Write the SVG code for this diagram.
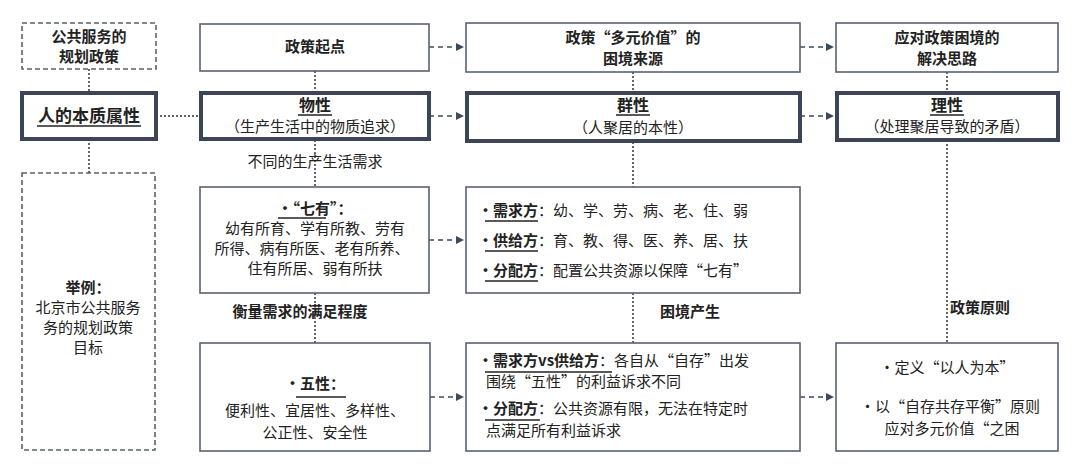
<svg xmlns="http://www.w3.org/2000/svg" width="1080" height="476" viewBox="0 0 1080 476">
<defs>
<style>
text{font-family:"Noto Sans CJK SC","Liberation Sans",sans-serif;font-size:15px;fill:#222;text-anchor:middle}
.b{font-weight:bold}
.l{text-anchor:start}
.box{fill:#fff;stroke:#5a6270;stroke-width:1.6}
.thick{fill:#fff;stroke:#3b4556;stroke-width:4}
.dash{fill:#fff;stroke:#5a6270;stroke-width:1.6;stroke-dasharray:5 3}
.dot{stroke:#333;stroke-width:1.5;stroke-dasharray:2 2;fill:none}
.arr{stroke:#3d4a5c;stroke-width:1.5;stroke-dasharray:5 4;fill:none;marker-end:url(#a)}
.u{stroke:#222;stroke-width:1.6}
</style>
<marker id="a" markerWidth="8" markerHeight="8" refX="8" refY="4" orient="auto" markerUnits="userSpaceOnUse"><path d="M0,0 L8,4 L0,8 z" fill="#3d4a5c"/></marker>
</defs>
<rect width="1080" height="476" fill="#fff"/>
<g id="connectors">
<path class="dot" d="M89 69V92M89 139V173M156 116H200M315 71V92M315 140V187M315 293V343M633 72V92M633 142V187M633 293V343M947 72V92M947 140V343"/>
<path class="arr" d="M429 47H464"/><path class="arr" d="M800 47H834"/>
<path class="arr" d="M429 116H464"/><path class="arr" d="M800 116H834"/>
<path class="arr" d="M429 240H464"/>
<path class="arr" d="M430 397H464"/><path class="arr" d="M800 397H834"/>
</g>
<g id="n1"><rect class="dash" x="22" y="23" width="134" height="46"/><text class="b" x="89" y="42">公共服务的</text><text class="b" x="89" y="62">规划政策</text></g>
<g id="n2"><rect class="thick" x="22" y="93" width="134" height="46"/><text class="b" x="89" y="122" style="font-size:17px">人的本质属性</text><line class="u" x1="37" y1="126" x2="141" y2="126"/></g>
<g id="n3"><rect class="dash" x="22" y="173" width="133" height="277"/><text class="b" x="88" y="293">举例：</text><text x="88" y="313">北京市公共服务</text><text x="88" y="333">务的规划政策</text><text x="88" y="353">目标</text></g>
<g id="n4"><rect class="box" x="200" y="24" width="229" height="47"/><text class="b" x="315" y="52">政策起点</text></g>
<g id="n5"><rect class="thick" x="201" y="93" width="228" height="46"/><text class="b" x="315" y="111" style="font-size:16px">物性</text><line class="u" x1="298" y1="115" x2="332" y2="115"/><text x="315" y="132">（生产生活中的物质追求）</text></g>
<text x="315" y="167">不同的生产生活需求</text>
<g id="n6"><rect class="box" x="200" y="187" width="229" height="106"/><text class="b" x="315" y="214">·“七有”：</text><line class="u" x1="278" y1="218" x2="326" y2="218"/><text x="315" y="234">幼有所育、学有所教、劳有</text><text x="312" y="254">所得、病有所医、老有所养、</text><text x="315" y="274">住有所居、弱有所扶</text></g>
<text class="b" x="300" y="317">衡量需求的满足程度</text>
<g id="n7"><rect class="box" x="200" y="343" width="230" height="108"/><text class="b" x="315" y="389">·五性：</text><line class="u" x1="296" y1="397" x2="346" y2="397"/><text x="315" y="416">便利性、宜居性、多样性、</text><text x="315" y="438">公正性、安全性</text></g>
<g id="n8"><rect class="box" x="466" y="23" width="334" height="49"/><text class="b" x="633" y="43">政策“多元价值”的</text><text class="b" x="633" y="64">困境来源</text></g>
<g id="n9"><rect class="thick" x="467" y="93" width="333" height="48"/><text class="b" x="633" y="111" style="font-size:16px">群性</text><line class="u" x1="616" y1="115" x2="650" y2="115"/><text x="633" y="133">（人聚居的本性）</text></g>
<g id="n10"><rect class="box" x="466" y="187" width="334" height="106"/>
<text class="l" x="478" y="216"><tspan class="b">·需求方</tspan>：幼、学、劳、病、老、住、弱</text><line class="u" x1="485" y1="221" x2="538" y2="221"/>
<text class="l" x="478" y="246"><tspan class="b">·供给方</tspan>：育、教、得、医、养、居、扶</text><line class="u" x1="485" y1="251" x2="538" y2="251"/>
<text class="l" x="478" y="276"><tspan class="b">·分配方</tspan>：配置公共资源以保障“七有”</text><line class="u" x1="485" y1="281" x2="538" y2="281"/></g>
<text class="b" x="690" y="317">困境产生</text>
<g id="n11"><rect class="box" x="466" y="343" width="334" height="108"/>
<text class="l" x="478" y="366"><tspan class="b">·需求方vs供给方</tspan>：各自从“自存”出发</text><line class="u" x1="485" y1="372" x2="612" y2="372"/>
<text class="l" x="486" y="387">围绕“五性”的利益诉求不同</text>
<text class="l" x="478" y="414"><tspan class="b">·分配方</tspan>：公共资源有限，无法在特定时</text><line class="u" x1="485" y1="420" x2="540" y2="420"/>
<text class="l" x="486" y="436">点满足所有利益诉求</text></g>
<g id="n12"><rect class="box" x="836" y="23" width="222" height="49"/><text class="b" x="947" y="43">应对政策困境的</text><text class="b" x="947" y="64">解决思路</text></g>
<g id="n13"><rect class="thick" x="837" y="93" width="221" height="47"/><text class="b" x="947" y="111" style="font-size:16px">理性</text><line class="u" x1="930" y1="115" x2="964" y2="115"/><text x="947" y="132">（处理聚居导致的矛盾）</text></g>
<text class="b" x="980" y="313">政策原则</text>
<g id="n14"><rect class="box" x="836" y="343" width="222" height="108"/><text x="947" y="373">·定义“以人为本”</text><text x="950" y="412">·以“自存共存平衡”原则</text><text x="952" y="434">应对多元价值“之困</text></g>
</svg>
